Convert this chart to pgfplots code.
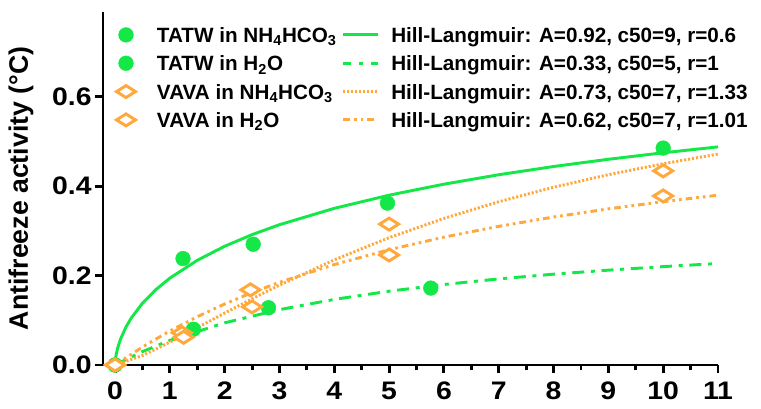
\documentclass[border=0pt]{standalone}
\usepackage{pgfplots}
\pgfplotsset{compat=1.18}
\usepackage{fontspec}
\setmainfont{Liberation Sans}
\newfontfamily\tickfont{Liberation Sans}[FakeStretch=1.12]
\definecolor{tgreen}{RGB}{20,232,72}
\definecolor{vorange}{RGB}{255,168,60}
\begin{document}
\begin{tikzpicture}
\path[use as bounding box] (-77.25pt,-32.25pt) rectangle (493.5pt,273.75pt);
\begin{axis}[
  at={(0,0)}, anchor=south west,
  scale only axis, width=461.25pt, height=265pt,
  xmin=-0.22, xmax=11, ymin=0, ymax=0.79,
  axis lines*=left,
  axis line style={line width=2.2pt, -},
  clip=false,
  xtick={0,1,...,11},
  minor xtick={0.5,1.5,...,10.5},
  ytick={0,0.2,0.4,0.6},
  tick style={black, line width=2.2pt},
  major tick length=6pt, minor tick length=4pt,
  tick align=outside,
  xticklabel style={font=\tickfont\fontsize{19}{19}\selectfont\bfseries, yshift=-3pt},
  yticklabel style={font=\tickfont\fontsize{19}{19}\selectfont\bfseries, xshift=1pt},
  /pgf/number format/assume math mode=true,
  yticklabel={\pgfmathprintnumber[fixed,fixed zerofill,precision=1]{\tick}},
  ylabel={Antifreeze activity (°C)},
  ylabel style={font=\fontsize{20}{20}\selectfont\bfseries, at={(axis description cs:-0.1333,0.5)}, anchor=center},
  legend columns=2,
  legend cell align=left,
  legend style={at={(axis description cs:0,1)}, anchor=north west, yshift=-6.8pt,
    draw=none, fill=none,
    font=\fontsize{15.5}{15.5}\selectfont\bfseries,
    inner sep=0pt, outer sep=0pt, row sep=0pt, column sep=0pt,
    nodes={inner sep=0pt, text height=16.2pt, text depth=5.05pt},
    /tikz/every even column/.append style={column sep=0pt},
    /tikz/every odd column/.append style={column sep=0pt}},
]
% TATW in NH4HCO3 data
\addplot[only marks, mark=*, mark size=5.5pt, color=tgreen,
  legend image code/.code={\path[draw=none,fill=none] (0pt,0pt) -- (40.5pt,0pt); \draw plot coordinates {(17.25pt,0pt)};}]
  coordinates {(0,0) (1.24,0.238) (2.52,0.27) (4.97,0.362) (10,0.485)};
\addlegendentry{TATW in NH\textsubscript{4}HCO\textsubscript{3}}
\addplot[tgreen, line width=2.2pt,
  legend image code/.code={\path[draw=none,fill=none] (0pt,0pt) -- (41pt,0pt); \draw[line width=2.2pt] (5pt,0pt) -- (31pt,0pt);}]
  coordinates {(0,0) (0.005,0.0101) (0.01,0.0153) (0.02,0.0230) (0.05,0.0391) (0.1,0.0579) (0.2,0.0851) (0.3,0.1058) (0.5,0.1381) (0.75,0.1691) (1,0.1942) (1.5,0.2341) (2,0.2655) (2.5,0.2915) (3,0.3137) (4,0.3503) (5,0.3797) (6,0.4043) (7,0.4254) (8,0.4438) (9,0.46) (10,0.4745) (11,0.4877)};
\addlegendentry{Hill-Langmuir: A=0.92, c50=9, r=0.6}
% TATW in H2O data
\addplot[only marks, mark=*, mark size=5.5pt, color=tgreen,
  legend image code/.code={\path[draw=none,fill=none] (0pt,0pt) -- (40.5pt,0pt); \draw plot coordinates {(17.25pt,0pt)};}]
  coordinates {(0,0) (1.43,0.08) (2.8,0.128) (5.76,0.172)};
\addlegendentry{TATW in H\textsubscript{2}O}
\addplot[tgreen, line width=2.2pt, dash pattern=on 9pt off 5pt on 3pt off 5pt,
  legend image code/.code={\path[draw=none,fill=none] (0pt,0pt) -- (41pt,0pt); \draw[line width=2.2pt, dash pattern=on 6pt off 6pt on 3pt off 6pt] (5pt,0pt) -- (31pt,0pt);}]
  coordinates {(0,0) (0.5,0.03) (1,0.055) (2,0.0943) (3,0.1238) (4,0.1467) (5,0.165) (6,0.18) (7,0.1925) (8,0.2031) (9,0.2121) (10,0.22) (11,0.2269)};
\addlegendentry{Hill-Langmuir: A=0.33, c50=5, r=1}
% VAVA in NH4HCO3 data
\addplot[only marks, mark=diamond*, mark size=4.5pt, color=vorange, mark options={fill=white, line width=2.2pt, xscale=2.1},
  legend image code/.code={\path[draw=none,fill=none] (0pt,0pt) -- (40.5pt,0pt); \draw plot coordinates {(17.25pt,0pt)};}]
  coordinates {(0,0) (1.22,0.072) (2.47,0.168) (5,0.315) (10,0.434)};
\addlegendentry{VAVA in NH\textsubscript{4}HCO\textsubscript{3}}
\addplot[vorange, line width=2.2pt, dash pattern=on 1.6pt off 1.4pt,
  legend image code/.code={\path[draw=none,fill=none] (0pt,0pt) -- (41pt,0pt); \draw[line width=2.2pt, dash pattern=on 1.6pt off 1.4pt] (5pt,0pt) -- (31pt,0pt);}]
  coordinates {(0,0) (0.5,0.0212) (1,0.051) (1.5,0.0834) (2,0.1161) (2.5,0.148) (3,0.1787) (4,0.2351) (5,0.2847) (6,0.3278) (7,0.365) (8,0.3974) (9,0.4255) (10,0.45) (11,0.4716)};
\addlegendentry{Hill-Langmuir: A=0.73, c50=7, r=1.33}
% VAVA in H2O data
\addplot[only marks, mark=diamond*, mark size=4.5pt, color=vorange, mark options={fill=white, line width=2.2pt, xscale=2.1},
  legend image code/.code={\path[draw=none,fill=none] (0pt,0pt) -- (40.5pt,0pt); \draw plot coordinates {(17.25pt,0pt)};}]
  coordinates {(0,0) (1.25,0.062) (2.5,0.13) (5,0.246) (10,0.378)};
\addlegendentry{VAVA in H\textsubscript{2}O}
\addplot[vorange, line width=2.2pt, dash pattern=on 5pt off 3pt on 2pt off 3pt on 2pt off 3pt,
  legend image code/.code={\path[draw=none,fill=none] (0pt,0pt) -- (41pt,0pt); \draw[line width=2.2pt, dash pattern=on 5pt off 3pt on 2pt off 3pt on 2pt off 3pt] (5pt,0pt) -- (31pt,0pt);}]
  coordinates {(0,0) (0.5,0.0403) (1,0.0762) (1.5,0.108) (2,0.1364) (2.5,0.1619) (3,0.1849) (4,0.2246) (5,0.2578) (6,0.2859) (7,0.31) (8,0.3309) (9,0.3491) (10,0.3652) (11,0.3796)};
\addlegendentry{Hill-Langmuir: A=0.62, c50=7, r=1.01}
\end{axis}
\end{tikzpicture}
\end{document}
